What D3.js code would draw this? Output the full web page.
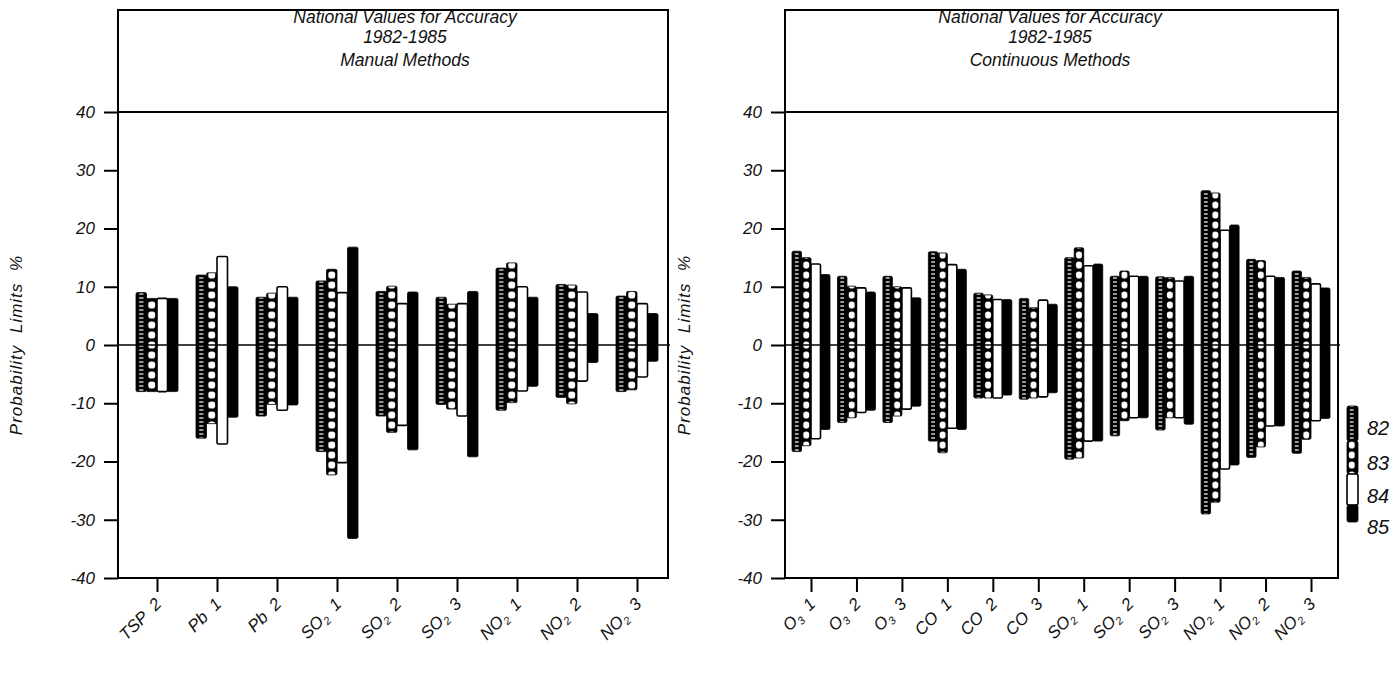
<!DOCTYPE html>
<html>
<head>
<meta charset="utf-8">
<script src="https://cdn.jsdelivr.net/npm/d3@7"></script>
<style>
body { margin: 0; background: #fff; }
text { font-family: "Liberation Sans", Arial, sans-serif; font-style: italic; fill: #111; }
</style>
</head>
<body>
<svg id="chart" width="1395" height="674"></svg>
<script>
var years = ["82", "83", "84", "85"];
var yTicks = [-40, -30, -20, -10, 0, 10, 20, 30, 40];

// Manual methods
var manualCats = ["TSP 2", "Pb 1", "Pb 2", "SO₂ 1", "SO₂ 2", "SO₂ 3", "NO₂ 1", "NO₂ 2", "NO₂ 3"];
var manualHi82 = [9, 12, 8.2, 11, 9.2, 8.2, 13.2, 10.4, 8.4];
var manualHi83 = [8, 12.4, 8.9, 13, 10.1, 7, 14.1, 10.3, 9.2];
var manualHi84 = [8, 15.2, 10, 9, 7.1, 7.1, 10, 9.1, 7.1];
var manualHi85 = [8, 10, 8.2, 16.8, 9.1, 9.2, 8.2, 5.4, 5.4];
var manualLo82 = [-8, -16, -12.2, -18.3, -12.2, -10.2, -11.2, -9, -8];
var manualLo83 = [-8, -13.5, -10.2, -22.3, -15, -11, -9.9, -10.1, -7.7];
var manualLo84 = [-8, -17, -11.2, -20.2, -13.8, -12.2, -7.9, -6.2, -5.5];
var manualLo85 = [-8, -12.4, -10.3, -33.2, -18, -19.2, -7.1, -3, -2.8];

// Continuous methods
var contCats = ["O₃ 1", "O₃ 2", "O₃ 3", "CO 1", "CO 2", "CO 3", "SO₂ 1", "SO₂ 2", "SO₂ 3", "NO₂ 1", "NO₂ 2", "NO₂ 3"];
var contHi82 = [16.1, 11.8, 11.8, 16, 8.9, 8, 15, 11.8, 11.7, 26.5, 14.7, 12.7];
var contHi83 = [15, 10.1, 10, 15.8, 8.6, 6.4, 16.7, 12.7, 11.6, 26.1, 14.5, 11.6];
var contHi84 = [13.9, 9.8, 9.8, 13.8, 7.8, 7.7, 13.6, 11.8, 11, 19.7, 11.8, 10.5];
var contHi85 = [12.1, 9.1, 8.1, 13, 7.8, 7, 13.9, 11.8, 11.8, 20.6, 11.6, 9.8];
var contLo82 = [-18.3, -13.3, -13.3, -16.5, -9.1, -9.3, -19.6, -15.6, -14.6, -29, -19.3, -18.6];
var contLo83 = [-17.3, -12.5, -12.2, -18.5, -9.1, -9.1, -19.4, -13, -12.5, -27, -17.5, -16.2];
var contLo84 = [-16.1, -11.6, -11, -14.3, -9.1, -8.9, -16.5, -12.5, -12.5, -21.3, -13.9, -13];
var contLo85 = [-14.5, -11.2, -10.5, -14.5, -8.6, -8.2, -16.5, -12.5, -13.6, -20.6, -13.9, -12.6];

var TOP = 10, BOTTOM = 578, Y40 = 112;
var svg = d3.select("#chart");
var defs = svg.append("defs");

var makePatterns = function(id, bw) {
  // 82: black with a column of small white dashes
  var p2 = defs.append("pattern").attr("id", "p82" + id)
    .attr("patternUnits", "userSpaceOnUse").attr("width", bw).attr("height", 4);
  p2.append("rect").attr("width", bw).attr("height", 4).attr("fill", "#000");
  p2.append("rect").attr("x", bw * 0.3).attr("y", 1.4).attr("width", bw * 0.4).attr("height", 1.2).attr("fill", "#fff");
  // 83: chain of white rounded cells
  var p3 = defs.append("pattern").attr("id", "p83" + id)
    .attr("patternUnits", "userSpaceOnUse").attr("width", bw).attr("height", 10);
  p3.append("rect").attr("width", bw).attr("height", 10).attr("fill", "#000");
  p3.append("rect").attr("x", 1.8).attr("y", 1.4).attr("width", bw - 3.6).attr("height", 7.2)
    .attr("rx", 2.8).attr("fill", "#fff");
};

var labelParts = function(sel, s) {
  // split "SO₂ 1" into SO / 2 (lowered, small) / 1
  var m = s.match(/^([A-Za-z]+)([₂₃]?) (\d)$/);
  var sub = { "₂": "2", "₃": "3" }[m[2]];
  sel.append("tspan").text(m[1]);
  if (sub) {
    sel.append("tspan").text(sub).attr("font-size", 11).attr("dy", 4);
    sel.append("tspan").text("  " + m[3]).attr("dy", -4);
  } else {
    sel.append("tspan").text("  " + m[3]);
  }
};

var drawPanel = function(p) {
  var g = svg.append("g");
  var y = d3.scaleLinear().domain([-40, 40]).range([BOTTOM, Y40]);
  var x = d3.scalePoint().domain(p.cats).range(p.range);
  var bw = p.bw;
  makePatterns(p.id, bw);

  // bars
  var groups = g.selectAll("g.cat").data(p.cats).enter().append("g")
    .attr("class", "cat")
    .attr("transform", function(d) { return "translate(" + (x(d) - 2 * bw) + ",0)"; });
  years.forEach(function(yr, j) {
    groups.append("g").attr("transform", "translate(" + (j * bw) + ",0)")
      .append("rect")
      .attr("x", 0)
      .attr("width", bw)
      .attr("y", function(d, i) { return y(p.hi[j][i]); })
      .attr("height", function(d, i) { return y(p.lo[j][i]) - y(p.hi[j][i]); })
      .attr("rx", 1.5)
      .attr("fill", j == 0 ? "url(#p82" + p.id + ")" : j == 1 ? "url(#p83" + p.id + ")" : j == 2 ? "#fff" : "#000")
      .attr("stroke", "#000")
      .attr("stroke-width", j == 2 ? 1.6 : 0.8);
  });

  // zero line
  g.append("line").attr("x1", p.x0).attr("x2", p.x1 + 2).attr("y1", y(0)).attr("y2", y(0))
    .attr("stroke", "#000").attr("stroke-width", 1.6);

  // frame and title box
  g.append("rect").attr("x", p.x0).attr("y", TOP).attr("width", p.x1 - p.x0).attr("height", BOTTOM - TOP)
    .attr("fill", "none").attr("stroke", "#000").attr("stroke-width", 2);
  g.append("line").attr("x1", p.x0).attr("x2", p.x1).attr("y1", y(40)).attr("y2", y(40))
    .attr("stroke", "#000").attr("stroke-width", 2);

  // y axis
  var ya = g.append("g").attr("transform", "translate(" + p.x0 + ",0)")
    .call(d3.axisLeft(y).tickValues(yTicks).tickSize(14).tickSizeOuter(0).tickPadding(9)
      .tickFormat(function(d) { return String(d); }));
  ya.attr("font-family", null).attr("font-size", null);
  ya.select(".domain").remove();
  ya.selectAll("line").attr("stroke-width", 2);
  ya.selectAll("text").attr("font-size", 17).attr("fill", "#111");

  g.append("text")
    .attr("transform", "translate(" + p.labelX + "," + y(0) + ") rotate(-90)")
    .attr("text-anchor", "middle")
    .attr("font-size", 17)
    .attr("letter-spacing", 1)
    .attr("word-spacing", 6)
    .text("Probability Limits %");

  // x axis
  var xa = g.append("g").attr("transform", "translate(0," + BOTTOM + ")")
    .call(d3.axisBottom(x).tickSize(14).tickSizeOuter(0));
  xa.attr("font-family", null).attr("font-size", null);
  xa.select(".domain").remove();
  xa.selectAll("line").attr("stroke-width", 2);
  xa.selectAll("text").each(function(d) {
    var t = d3.select(this).text(null)
      .attr("y", null).attr("dy", null)
      .attr("font-size", 17)
      .attr("text-anchor", "end")
      .attr("transform", "translate(5,27) rotate(-45)")
      .style("white-space", "pre");
    labelParts(t, d);
  });

  // title
  var tl = [["National Values for Accuracy", 23], ["1982-1985", 43], [p.title, 66]];
  g.selectAll("text.title").data(tl).enter().append("text")
    .attr("class", "title")
    .attr("x", p.titleX).attr("y", function(d) { return d[1]; })
    .attr("text-anchor", "middle")
    .attr("font-size", 17.5)
    .text(function(d) { return d[0]; });
};

drawPanel({
  id: "m", cats: manualCats, x0: 118, x1: 668, range: [157, 637], bw: 10.5,
  hi: [manualHi82, manualHi83, manualHi84, manualHi85],
  lo: [manualLo82, manualLo83, manualLo84, manualLo85],
  title: "Manual Methods", titleX: 405, labelX: 22
});
drawPanel({
  id: "c", cats: contCats, x0: 785, x1: 1338, range: [811, 1311], bw: 9.5,
  hi: [contHi82, contHi83, contHi84, contHi85],
  lo: [contLo82, contLo83, contLo84, contLo85],
  title: "Continuous Methods", titleX: 1050, labelX: 690
});

// legend
var legendTops = [406, 441, 474, 505, 522];
var leg = svg.append("g").attr("transform", "translate(1347,0)");
years.forEach(function(yr, j) {
  leg.append("rect")
    .attr("x", 0).attr("width", 11)
    .attr("y", legendTops[j]).attr("height", legendTops[j + 1] - legendTops[j])
    .attr("rx", 2)
    .attr("fill", j == 0 ? "url(#p82c)" : j == 1 ? "url(#p83c)" : j == 2 ? "#fff" : "#000")
    .attr("stroke", "#000").attr("stroke-width", j == 2 ? 1.6 : 0.8);
  leg.append("text")
    .attr("x", 20).attr("y", legendTops[j] + 29)
    .attr("font-size", 20)
    .text(yr);
});
</script>
</body>
</html>
